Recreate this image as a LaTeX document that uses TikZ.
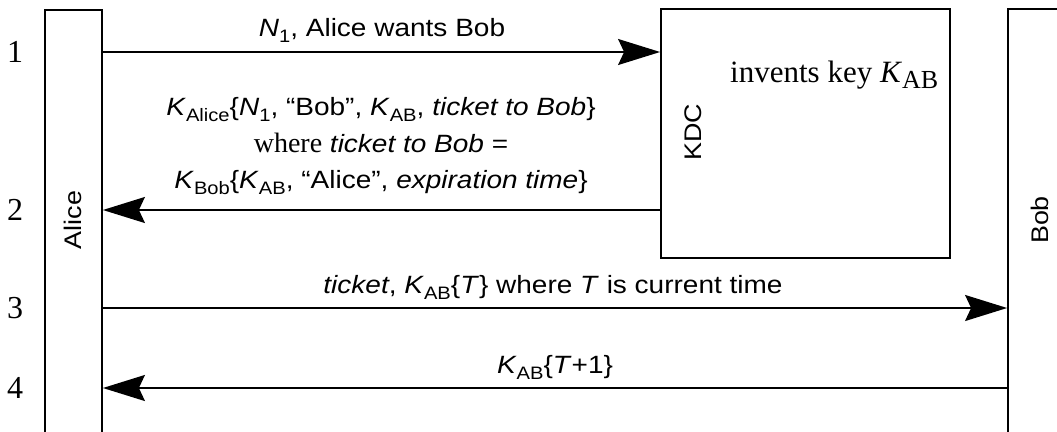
\documentclass[tikz,border=0pt]{standalone}
\usepackage{fontspec}
\setmainfont{Liberation Serif}
\newfontfamily\hv[FakeStretch=1.12]{Liberation Sans}
\usetikzlibrary{arrows.meta}
\newcommand\sub[1]{\raisebox{-0.26em}{\fontsize{18}{18}\selectfont #1}}
\newcommand\Ks[1]{\textit{K}\sub{#1}}
\begin{document}
\begin{tikzpicture}[x=1pt,y=-1pt,
  actor/.style={draw, line width=1.8pt, inner sep=0pt},
  msg/.style={line width=1.8pt, -{Stealth[length=42pt,width=26pt,inset=6pt]}},
  lbl/.style={font=\hv\fontsize{25}{30}\selectfont, inner sep=0pt, anchor=base},
  num/.style={font=\fontsize{32}{36}\selectfont, inner sep=0pt},
  who/.style={font=\hv\fontsize{24}{28}\selectfont, rotate=90, inner sep=0pt},
  note/.style={font=\fontsize{31}{36}\selectfont, inner sep=0pt, anchor=base west}]
\clip (0,0) rectangle (1057,431);
\fill[white] (0,0) rectangle (1057,431);
% actors
\node[actor, minimum width=57pt, minimum height=440pt] (alice) at (73.5,230) {};
\node[actor, minimum width=289pt, minimum height=249pt] (kdc) at (805.5,133.5) {};
\node[actor, minimum width=62pt, minimum height=440pt] (bob) at (1039,229) {};
\node[who] (alicet) at (73,220) {Alice};
\node[who] (kdct) at (693,132) {KDC};
\node[who] (bobt) at (1040,220) {Bob};
\node[note] (inv) at (730,82) {invents key \textit{K}\raisebox{-0.22em}{\fontsize{26}{26}\selectfont AB}};
% rows
\coordinate (r1) at (0,52);
\coordinate (r2) at (0,210);
\coordinate (r3) at (0,308);
\coordinate (r4) at (0,388);
\node[num] (n1) at (15,52) {1};
\node[num] (n2) at (15,210) {2};
\node[num] (n3) at (15,308) {3};
\node[num] (n4) at (15,388) {4};
% messages
\draw[msg] (alice.east |- r1) -- (kdc.west |- r1);
\draw[msg] (kdc.west |- r2) -- (alice.east |- r2);
\draw[msg] (alice.east |- r3) -- (bob.west |- r3);
\draw[msg] (bob.west |- r4) -- (alice.east |- r4);
% labels
\node[lbl] (m1) at (382,36) {\textit{N}\sub{1}, Alice wants Bob};
\node[lbl] (m2a) at (381,115) {\Ks{Alice}\{\textit{N}\sub{1}, “Bob”, \Ks{AB}, \textit{ticket to Bob}\}};
\node[lbl] (m2b) at (381,152) {{\rmfamily\fontsize{28}{30}\selectfont where} \textit{ticket to Bob} =};
\node[lbl] (m2c) at (381,188) {\Ks{Bob}\{\Ks{AB}, “Alice”, \textit{expiration time}\}};
\node[lbl] (m3) at (553,293) {\textit{ticket}, \Ks{AB}\{\textit{T}\} where \textit{T} is current time};
\node[lbl] (m4) at (555,373) {\Ks{AB}\{\textit{T}+1\}};
\end{tikzpicture}
\end{document}
